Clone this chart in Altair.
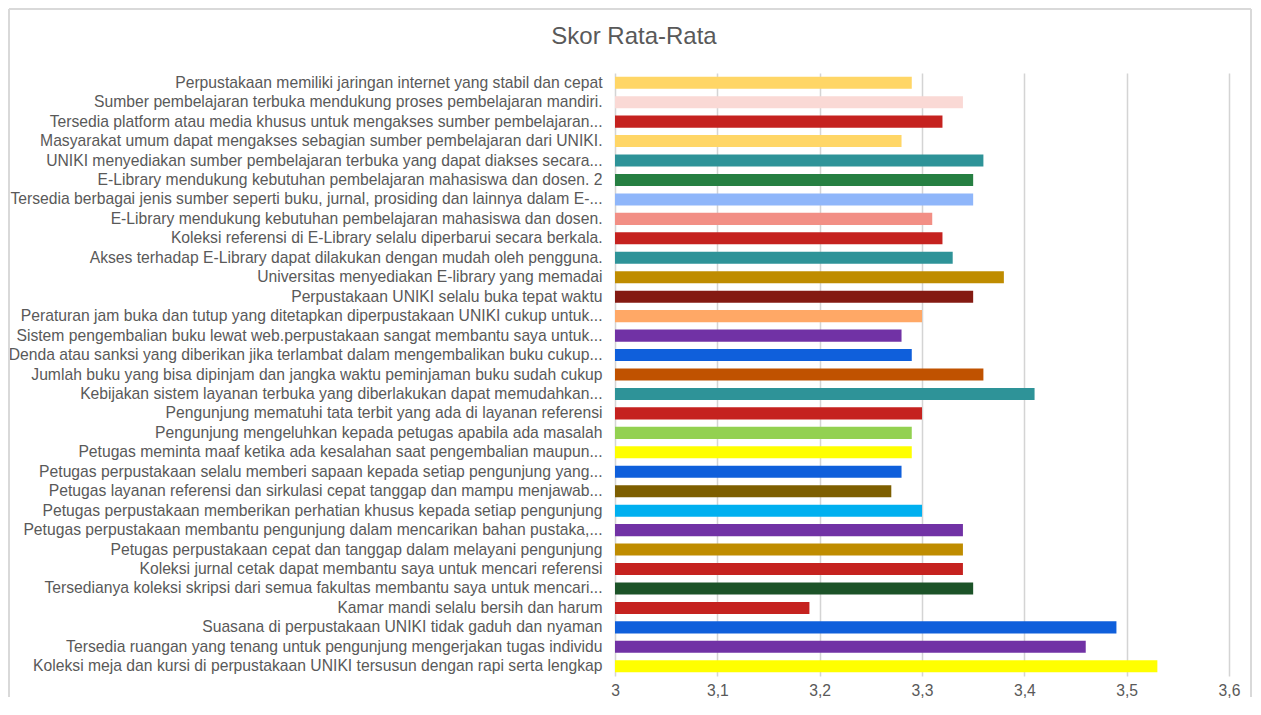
import altair as alt
import pandas as pd

kategori = [
    "Perpustakaan memiliki jaringan internet yang stabil dan cepat",
    "Sumber pembelajaran terbuka mendukung proses pembelajaran mandiri.",
    "Tersedia platform atau media khusus untuk mengakses sumber pembelajaran...",
    "Masyarakat umum dapat mengakses sebagian sumber pembelajaran dari UNIKI.",
    "UNIKI menyediakan sumber pembelajaran terbuka yang dapat diakses secara...",
    "E-Library mendukung kebutuhan pembelajaran mahasiswa dan dosen. 2",
    "Tersedia berbagai jenis sumber seperti buku, jurnal, prosiding dan lainnya dalam E-...",
    "E-Library mendukung kebutuhan pembelajaran mahasiswa dan dosen.",
    "Koleksi referensi di E-Library selalu diperbarui secara berkala.",
    "Akses terhadap E-Library dapat dilakukan dengan mudah oleh pengguna.",
    "Universitas menyediakan E-library yang memadai",
    "Perpustakaan UNIKI selalu buka tepat waktu",
    "Peraturan jam buka dan tutup yang ditetapkan diperpustakaan UNIKI cukup untuk...",
    "Sistem pengembalian buku lewat web.perpustakaan sangat membantu saya untuk...",
    "Denda atau sanksi yang diberikan jika terlambat dalam mengembalikan buku cukup...",
    "Jumlah buku yang bisa dipinjam dan jangka waktu peminjaman buku sudah cukup",
    "Kebijakan sistem layanan terbuka yang diberlakukan dapat memudahkan...",
    "Pengunjung mematuhi tata terbit yang ada di layanan referensi",
    "Pengunjung mengeluhkan kepada petugas apabila ada masalah",
    "Petugas meminta maaf ketika ada kesalahan saat pengembalian maupun...",
    "Petugas perpustakaan selalu memberi sapaan kepada setiap pengunjung yang...",
    "Petugas layanan referensi dan sirkulasi cepat tanggap dan mampu menjawab...",
    "Petugas perpustakaan memberikan perhatian khusus kepada setiap pengunjung",
    "Petugas perpustakaan membantu pengunjung dalam mencarikan bahan pustaka,...",
    "Petugas perpustakaan cepat dan tanggap dalam melayani pengunjung",
    "Koleksi jurnal cetak dapat membantu saya untuk mencari referensi",
    "Tersedianya koleksi skripsi dari semua fakultas membantu saya untuk mencari...",
    "Kamar mandi selalu bersih dan harum",
    "Suasana di perpustakaan UNIKI tidak gaduh dan nyaman",
    "Tersedia ruangan yang tenang untuk pengunjung mengerjakan tugas individu",
    "Koleksi meja dan kursi di perpustakaan UNIKI tersusun dengan rapi serta lengkap",
]

skor = [
    3.29, 3.34, 3.32, 3.28, 3.36, 3.35, 3.35, 3.31, 3.32, 3.33,
    3.38, 3.35, 3.30, 3.28, 3.29, 3.36, 3.41, 3.30, 3.29, 3.29,
    3.28, 3.27, 3.30, 3.34, 3.34, 3.34, 3.35, 3.19, 3.49, 3.46,
    3.53,
]

warna = [
    "#FFD666", "#FAD9D5", "#C5221F", "#FFD666", "#2E9398", "#267F42",
    "#8FB6FA", "#F28F85", "#C5221F", "#2E9398", "#BF8C00", "#841A12",
    "#FFA866", "#7132A5", "#0F5FDB", "#C05200", "#2E9398", "#C5221F",
    "#93D151", "#FFFF00", "#0F5FDB", "#7D5E00", "#00B0F0", "#7132A5",
    "#BF8C00", "#C5221F", "#1C5328", "#C5221F", "#0F5FDB", "#7132A5",
    "#FFFF00",
]

tick_x = [3, 3.1, 3.2, 3.3, 3.4, 3.5, 3.6]
x_min, x_max = 3, 3.6
judul = "Skor Rata-Rata"

FONT = "Liberation Sans"
TEXT_COLOR = "#595959"
FRAME = "#d9d9d9"
W, H = 614, 603

df = pd.DataFrame({"kategori": kategori, "skor": skor})
one = pd.DataFrame({"d": [0]})

bars = alt.Chart(df).mark_bar(clip=True).encode(
    x=alt.X(
        "skor:Q",
        scale=alt.Scale(domain=[x_min, x_max], nice=False, zero=False),
        axis=alt.Axis(
            values=tick_x,
            labelExpr="replace(format(datum.value, '.1~f'), '.', ',')",
            title=None,
            grid=True,
            gridColor="#d4d4d4",
            gridWidth=1.5,
            domain=False,
            ticks=False,
            labelFlush=False,
            labelPadding=7,
        ),
    ),
    x2=alt.datum(x_min),
    y=alt.Y(
        "kategori:N",
        sort=kategori,
        scale=alt.Scale(paddingInner=0.38, paddingOuter=0.19),
        axis=alt.Axis(
            title=None,
            domain=False,
            ticks=False,
            grid=False,
            labelLimit=800,
            labelPadding=13,
        ),
    ),
    color=alt.Color(
        "kategori:N",
        scale=alt.Scale(domain=kategori, range=warna),
        legend=None,
    ),
)

left_line = alt.Chart(one).mark_rule(color=FRAME, strokeWidth=2).encode(
    x=alt.value(-606), y=alt.value(-64), y2=alt.value(624)
)
right_line = alt.Chart(one).mark_rule(color=FRAME, strokeWidth=2).encode(
    x=alt.value(636), y=alt.value(-64), y2=alt.value(624)
)
top_line = alt.Chart(one).mark_rule(color=FRAME, strokeWidth=2).encode(
    x=alt.value(-606), x2=alt.value(636), y=alt.value(-64)
)
title_text = alt.Chart(one).mark_text(
    text=judul,
    fontSize=24,
    color=TEXT_COLOR,
    font=FONT,
    align="center",
    baseline="middle",
).encode(x=alt.value(19), y=alt.value(-36))

chart = (
    alt.layer(bars, left_line, right_line, top_line, title_text)
    .properties(width=W, height=H, padding=0, background="white")
    .configure_view(stroke=None)
    .configure_axis(
        labelFont=FONT,
        labelFontSize=15.7,
        labelColor=TEXT_COLOR,
    )
)

chart.save("out.html", embed_options={"renderer": "svg", "actions": False})
